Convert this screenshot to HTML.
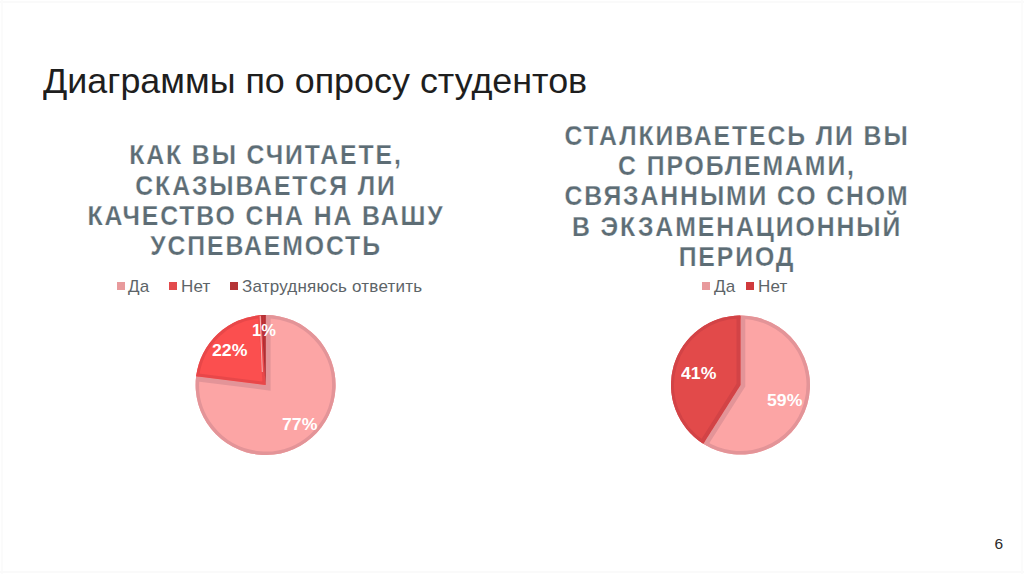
<!DOCTYPE html>
<html><head><meta charset="utf-8">
<style>
html,body{margin:0;padding:0;background:#fff;}
body{width:1024px;height:574px;position:relative;overflow:hidden;font-family:"Liberation Sans",sans-serif;}
.t{position:absolute;white-space:nowrap;}
#title{left:43px;top:59.6px;font-size:34.5px;color:#1e1e1e;line-height:42px;transform:scaleX(1.04);transform-origin:0 0;}
.ct{position:absolute;font-weight:bold;color:#5d6d75;font-size:28px;line-height:30.3px;text-align:center;letter-spacing:2.15px;white-space:nowrap;transform:scaleX(0.885);transform-origin:50% 0;-webkit-text-stroke:0.25px #fff;}
.lg{position:absolute;font-size:17px;color:#5d6468;line-height:20px;white-space:nowrap;letter-spacing:0.2px;}
.mk{position:absolute;width:8px;height:8px;}
.lbl{position:absolute;font-weight:bold;color:#fff;font-size:16.5px;line-height:20px;white-space:nowrap;transform:scaleX(1.07);transform-origin:0 0;}
#pg{position:absolute;left:994.5px;top:535px;font-size:15.5px;color:#2a2a2a;line-height:18px;}
</style></head><body>
<div class="t" id="title">Диаграммы по опросу студентов</div>
<div class="ct" id="ct1" style="left:36.0px;width:460px;top:140.3px;">КАК ВЫ СЧИТАЕТЕ,<br>СКАЗЫВАЕТСЯ ЛИ<br>КАЧЕСТВО СНА НА ВАШУ<br>УСПЕВАЕМОСТЬ</div>
<div class="ct" id="ct2" style="left:507.0px;width:460px;top:120.8px;">СТАЛКИВАЕТЕСЬ ЛИ ВЫ<br>С ПРОБЛЕМАМИ,<br>СВЯЗАННЫМИ СО СНОМ<br>В ЭКЗАМЕНАЦИОННЫЙ<br>ПЕРИОД</div>
<div class="mk" style="left:117px;top:282px;background:#e89a9c"></div>
<div class="lg" style="left:128px;top:277px;">Да</div>
<div class="mk" style="left:169px;top:282px;background:#e34a4c"></div>
<div class="lg" style="left:181px;top:277px;">Нет</div>
<div class="mk" style="left:230px;top:282px;background:#b53436"></div>
<div class="lg" style="left:242px;top:277px;">Затрудняюсь ответить</div>
<div class="mk" style="left:702px;top:282px;background:#e89a9c"></div>
<div class="lg" style="left:714px;top:277px;">Да</div>
<div class="mk" style="left:746px;top:282px;background:#d03a3c"></div>
<div class="lg" style="left:758px;top:277px;">Нет</div>
<svg width="1024" height="574" style="position:absolute;left:0;top:0;">
<clipPath id="ac0"><path d="M265.60,385.00 L265.60,315.00 A70,70 0 1 1 196.15,376.23 Z"/></clipPath>
<path d="M265.60,385.00 L265.60,315.00 A70,70 0 1 1 196.15,376.23 Z" fill="#fca5a5"/>
<path d="M265.60,315.00 L265.60,385.00 L196.15,376.23" fill="none" stroke="#e39498" stroke-width="10" stroke-linejoin="miter" clip-path="url(#ac0)"/>
<path d="M265.60,315.00 A70,70 0 1 1 196.15,376.23" fill="none" stroke="#e39498" stroke-width="7.0" clip-path="url(#ac0)"/>
<clipPath id="ac1"><path d="M265.60,385.00 L196.15,376.23 A70,70 0 0 1 261.20,315.14 Z"/></clipPath>
<path d="M265.60,385.00 L196.15,376.23 A70,70 0 0 1 261.20,315.14 Z" fill="#fb4f4f"/>
<path d="M196.15,376.23 L265.60,385.00 L261.20,315.14" fill="none" stroke="#e84749" stroke-width="6" stroke-linejoin="miter" clip-path="url(#ac1)"/>
<path d="M196.15,376.23 A70,70 0 0 1 261.20,315.14" fill="none" stroke="#e84749" stroke-width="6" clip-path="url(#ac1)"/>
<clipPath id="ac2"><path d="M265.60,385.00 L261.20,315.14 A70,70 0 0 1 265.60,315.00 Z"/></clipPath>
<path d="M265.60,385.00 L261.20,315.14 A70,70 0 0 1 265.60,315.00 Z" fill="#c23438"/>
<path d="M261.20,315.14 L265.60,385.00 L265.60,315.00" fill="none" stroke="#b02e33" stroke-width="2" stroke-linejoin="miter" clip-path="url(#ac2)"/>
<path d="M261.20,315.14 A70,70 0 0 1 265.60,315.00" fill="none" stroke="#b02e33" stroke-width="2" clip-path="url(#ac2)"/>
<line x1="260.2" y1="316" x2="262.3" y2="372" stroke="#ffd0d0" stroke-opacity="0.8" stroke-width="1"/>
<clipPath id="bc0"><path d="M740.50,385.00 L740.50,315.50 A69.5,69.5 0 1 1 703.26,443.68 Z"/></clipPath>
<path d="M740.50,385.00 L740.50,315.50 A69.5,69.5 0 1 1 703.26,443.68 Z" fill="#fca5a5"/>
<path d="M740.50,315.50 L740.50,385.00 L703.26,443.68" fill="none" stroke="#e39498" stroke-width="9.6" stroke-linejoin="miter" clip-path="url(#bc0)"/>
<path d="M740.50,315.50 A69.5,69.5 0 1 1 703.26,443.68" fill="none" stroke="#e39498" stroke-width="7.0" clip-path="url(#bc0)"/>
<clipPath id="bc1"><path d="M740.50,385.00 L703.26,443.68 A69.5,69.5 0 0 1 740.50,315.50 Z"/></clipPath>
<path d="M740.50,385.00 L703.26,443.68 A69.5,69.5 0 0 1 740.50,315.50 Z" fill="#e24a4a"/>
<path d="M703.26,443.68 L740.50,385.00 L740.50,315.50" fill="none" stroke="#d24346" stroke-width="8" stroke-linejoin="miter" clip-path="url(#bc1)"/>
<path d="M703.26,443.68 A69.5,69.5 0 0 1 740.50,315.50" fill="none" stroke="#d24346" stroke-width="6" clip-path="url(#bc1)"/>
</svg>
<div class="lbl" style="left:282px;top:414px;">77%</div>
<div class="lbl" style="left:212px;top:340px;">22%</div>
<div class="lbl" style="left:252px;top:320px;transform:none;">1%</div>
<div class="lbl" style="left:681px;top:363px;">41%</div>
<div class="lbl" style="left:767px;top:390px;">59%</div>
<div id="pg">6</div>
<div style="position:absolute;left:0;top:1px;width:1024px;height:2px;background:#fafafa"></div>
<div style="position:absolute;left:1px;top:0;width:2px;height:574px;background:#fbfbfb"></div>
<div style="position:absolute;left:0;top:571px;width:1024px;height:2px;background:#fafafa"></div>
<div style="position:absolute;left:1021px;top:0;width:2px;height:574px;background:#fbfbfb"></div>
</body></html>
